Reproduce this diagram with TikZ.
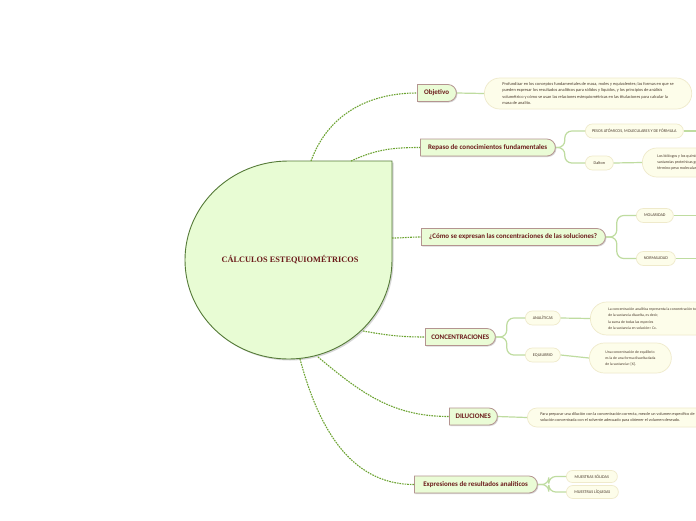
\documentclass[tikz,border=0pt]{standalone}
\usepackage{fontspec}
\setmainfont{Carlito}
\newfontfamily\titlefont{Liberation Serif}
\usetikzlibrary{shapes.misc,shadows}
\definecolor{shapefill}{HTML}{E8FCD4}
\definecolor{shapeline}{HTML}{557A38}
\definecolor{topicfill}{HTML}{EAFCD6}
\definecolor{topicline}{HTML}{B49490}
\definecolor{subfill}{HTML}{FDFDEA}
\definecolor{subline}{HTML}{EFEACB}
\definecolor{titlered}{HTML}{6B1A1A}
\definecolor{subtext}{HTML}{4A3A2C}
\definecolor{dotgreen}{HTML}{6CA331}
\definecolor{twiggreen}{HTML}{BFDCA0}
\begin{document}
\begin{tikzpicture}[x=1pt, y=-1pt,
    topic/.style={rounded rectangle, rounded rectangle west arc=none, anchor=west,
        draw=topicline, fill=topicfill, line width=.8pt, minimum height=17pt, inner sep=2pt,
        drop shadow={shadow xshift=1pt, shadow yshift=-1pt, fill=black!40, opacity=.4},
        text=titlered, font=\fontsize{7}{8}\selectfont\bfseries},
    sub/.style={rounded rectangle, anchor=west, draw=subline, fill=subfill, line width=.7pt,
        minimum height=14pt, inner sep=1.5pt, text=subtext, font=\fontsize{4.2}{5}\selectfont},
    note/.style={rectangle, anchor=west, draw=subline, fill=subfill, line width=.7pt,
        align=left, inner ysep=1pt, text=subtext, font=\fontsize{4.35}{6.3}\selectfont},
    dots/.style={draw=dotgreen, line width=1.1pt, dash pattern=on 1.6pt off 1pt},
    twig/.style={draw=twiggreen, line width=1.2pt, rounded corners=7pt}]
\clip (0,0) rectangle (696,520);
\fill[white] (0,0) rectangle (696,520);

% central shape
\path[draw=shapeline, fill=shapefill, line width=.9pt,
    drop shadow={shadow xshift=1.5pt, shadow yshift=-1.5pt, fill=black!40, opacity=.4}]
    (392,161) -- (392,260) arc[start angle=0, end angle=270, x radius=103.5, y radius=99] -- cycle;
\node (title) at (290,260)[text=titlered, font=\titlefont\bfseries\fontsize{8.3}{10}\selectfont]{CÁLCULOS ESTEQUIOMÉTRICOS};
\coordinate (s1) at (311,161);
\coordinate (s2) at (351,161);
\coordinate (s3) at (392,238);
\coordinate (s4) at (363,331);
\coordinate (s5) at (318,357);
\coordinate (s6) at (300,359);

% topics
\node (obj) at (417,93)[topic, minimum width=43pt]{Objetivo};
\node (rep) at (420,147.5)[topic, minimum width=139pt]{Repaso de conocimientos fundamentales};
\node (como) at (421,237)[topic, minimum width=188pt]{¿Cómo se expresan las concentraciones de las soluciones?};
\node (conc) at (425,337)[topic, minimum width=74pt]{CONCENTRACIONES};
\node (dil) at (449,416.5)[topic, minimum width=52pt]{DILUCIONES};
\node (expr) at (414,484.5)[topic, minimum width=127pt]{Expresiones de resultados analíticos};

\draw[dots] (s1) to[out=70, in=180] (obj.west);
\draw[dots] (s2) to[out=25, in=180] (rep.west);
\draw[dots] (s3) to[out=0, in=180] (como.west);
\draw[dots] (s4) to[out=-10, in=180] (conc.west);
\draw[dots] (s5) to[out=-40, in=180] (dil.west);
\draw[dots] (s6) to[out=-75, in=180] (expr.west);

% children
\node (objTxt) at (484,93.5)[note, minimum height=31pt, rounded corners=15.5pt, inner xsep=18pt]{Profundizar en los conceptos fundamentales de masa, moles y equivalentes; las formas en que se\\ pueden expresar los resultados analíticos para sólidos y líquidos, y los principios de análisis\\ volumétrico y cómo se usan las relaciones estequiométricas en las titulaciones para calcular la\\ masa de analito.};
\node (pesos) at (585,131)[sub, minimum width=101pt]{PESOS ATÓMICOS, MOLECULARES Y DE FÓRMULA};
\node (dalton) at (585,163)[sub, minimum width=31pt]{Dalton};
\node (daltonTxt) at (642,162.5)[note, minimum height=29pt, rounded corners=14.5pt, inner xsep=15pt, font=\fontsize{4}{6}\selectfont]{Los biólogos y los químicos emplean el dalton con\\ sustancias proteínicas grandes, en lugar del\\ término peso molecular.};
\node (molar) at (636,215.5)[sub, minimum width=40pt]{MOLARIDAD};
\node (normal) at (636,258.5)[sub, minimum width=42pt]{NORMALIDAD};
\node (anal) at (525,318)[sub, minimum width=38pt]{ANALÍTICAS};
\node (equi) at (525,355)[sub, minimum width=38pt]{EQUILIBRIO};
\node (analTxt) at (590,318.5)[note, minimum height=33pt, rounded corners=16.5pt, inner xsep=18pt, font=\fontsize{3.8}{6.5}\selectfont]{La concentración analítica representa la concentración total\\ de la sustancia disuelta, es decir,\\ la suma de todas las especies\\ de la sustancia en solución= Cx.};
\node (equiTxt) at (589,358)[note, minimum height=30pt, rounded corners=15pt, inner xsep=16pt, font=\fontsize{3.8}{6}\selectfont]{Una concentración de equilibrio\\ es la de una forma disuelta dada\\ de la sustancia= [X].};
\node (dilTxt) at (527,417.5)[note, minimum height=19pt, rounded corners=9.5pt, inner xsep=13pt, font=\fontsize{4.2}{6.5}\selectfont]{Para preparar una dilución con la concentración correcta, mezcle un volumen específico de\\ solución concentrada con el solvente adecuado para obtener el volumen deseado.};
\node (solid) at (566,476.5)[sub, minimum height=12pt, minimum width=54pt]{MUESTRAS SÓLIDAS};
\node (liquid) at (566,492)[sub, minimum height=13pt, minimum width=55pt]{MUESTRAS LÍQUIDAS};
\coordinate (pesosEnd) at (696,131);
\coordinate (molarEnd) at (696,215.5);
\coordinate (normalEnd) at (696,258.5);

\draw[twig] (obj.east) -- (objTxt.west);
\foreach \n in {pesos,dalton}
    \draw[twig] (rep.east) -- ++(9,0) |- (\n.west);
\draw[twig] (pesos.east) -- (pesosEnd);
\draw[twig] (dalton.east) -- (daltonTxt.west);
\foreach \n in {molar,normal}
    \draw[twig] (como.east) -- ++(11,0) |- (\n.west);
\draw[twig] (molar.east) -- (molarEnd);
\draw[twig] (normal.east) -- (normalEnd);
\foreach \n in {anal,equi}
    \draw[twig] (conc.east) -- ++(11,0) |- (\n.west);
\draw[twig] (anal.east) -- (analTxt.west);
\draw[twig] (equi.east) -- (equiTxt.west);
\draw[twig] (dil.east) -- (dilTxt.west);
\foreach \n in {solid,liquid}
    \draw[twig] (expr.east) -- ++(11,0) |- (\n.west);

\end{tikzpicture}
\end{document}
